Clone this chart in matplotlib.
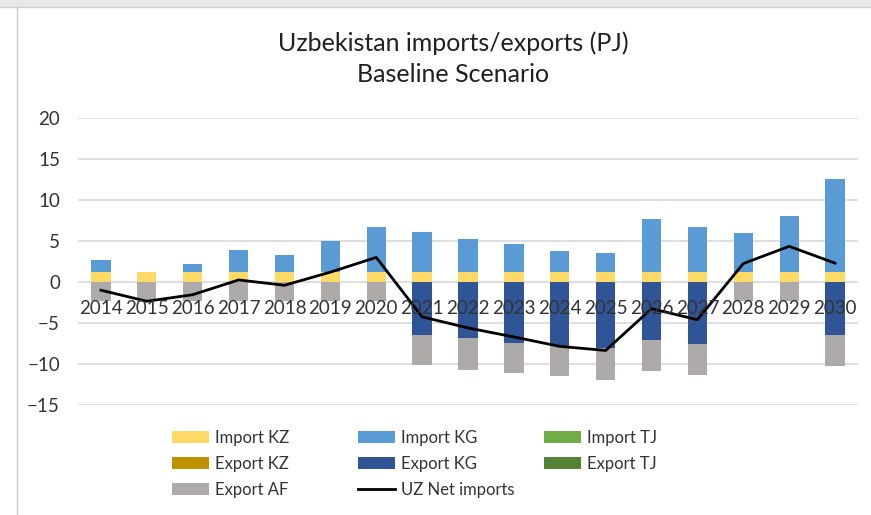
import numpy as np
import matplotlib
matplotlib.use("Agg")
import matplotlib.pyplot as plt
from matplotlib.lines import Line2D
from matplotlib.patches import Rectangle

plt.rcParams['font.family'] = ['Lato', 'DejaVu Sans']

# data (PJ)
years = [str(y) for y in range(2014, 2031)]
imp_kz = [1.25] * 17
imp_kg = [1.45, 0.0, 0.95, 2.7, 2.05, 3.8, 5.5, 4.85, 4.0, 3.4, 2.55, 2.3, 6.4, 5.5, 4.7, 6.85, 11.35]
imp_tj = [0.0] * 17
exp_kz = [0.0] * 17
exp_kg = [0, 0, 0, 0, 0, 0, 0, 6.45, 6.85, 7.4, 7.85, 8.1, 7.1, 7.5, 0, 0, 6.45]
exp_tj = [0.0] * 17
exp_af = [2.3, 2.3, 2.3, 2.3, 2.3, 2.3, 2.3, 3.7, 3.85, 3.7, 3.65, 3.8, 3.75, 3.9, 2.3, 2.3, 3.85]
net = [-1.0, -2.35, -1.55, 0.25, -0.4, 1.2, 3.0, -4.25, -5.6, -6.7, -7.85, -8.35, -3.25, -4.6, 2.25, 4.35, 2.3]

c_imp_kz = '#FFD966'
c_imp_kg = '#5B9BD5'
c_imp_tj = '#70AD47'
c_exp_kz = '#BF9000'
c_exp_kg = '#2F5597'
c_exp_tj = '#548235'
c_exp_af = '#AEAAAA'

fig = plt.figure(figsize=(8.71, 5.15), dpi=100)
# screenshot frame
fig.patches.append(Rectangle((0, 1 - 6 / 515), 1, 6 / 515, transform=fig.transFigure,
                             color='#e8e8e8', zorder=0))
fig.lines.append(Line2D([0, 1], [1 - 7 / 515] * 2, transform=fig.transFigure, color='#d0d0d0', lw=1))
fig.lines.append(Line2D([17 / 871] * 2, [0, 1 - 7 / 515], transform=fig.transFigure, color='#c8c8c8', lw=1))

ax = fig.add_axes([78 / 871, 1 - 405 / 515, 780 / 871, 287 / 515])
x = np.arange(len(years))
w = 0.42

# imports stacked upward
pos = np.zeros(len(years))
for vals, col, lab in [(imp_kz, c_imp_kz, 'Import KZ'), (imp_kg, c_imp_kg, 'Import KG'),
                       (imp_tj, c_imp_tj, 'Import TJ')]:
    v = np.array(vals)
    ax.bar(x, v, w, bottom=pos, color=col, label=lab, zorder=2)
    pos += v

# exports stacked downward
neg = np.zeros(len(years))
for vals, col, lab in [(exp_kz, c_exp_kz, 'Export KZ'), (exp_kg, c_exp_kg, 'Export KG'),
                       (exp_tj, c_exp_tj, 'Export TJ'), (exp_af, c_exp_af, 'Export AF')]:
    v = -np.array(vals, dtype=float)
    ax.bar(x, v, w, bottom=neg, color=col, label=lab, zorder=2)
    neg += v

ax.plot(x, net, color='black', lw=2, label='UZ Net imports', zorder=3)

ax.set_xlim(-0.5, len(years) - 0.5)
ax.set_ylim(-15, 20)
ax.set_yticks(np.arange(-15, 21, 5))
ax.grid(axis='y', color='#d9d9d9', lw=1.2, zorder=0)
for s in ax.spines.values():
    s.set_visible(False)
ax.spines['bottom'].set_position(('data', 0))
ax.set_xticks(x)
ax.set_xticklabels(years)
ax.tick_params(axis='x', length=0, pad=13, labelsize=13.5, labelcolor='#333333')
ax.tick_params(axis='y', length=0, pad=13, labelsize=13.5, labelcolor='#333333')
ax.xaxis.set_zorder(5)

fig.text(453 / 871, 1 - 43 / 515, 'Uzbekistan imports/exports (PJ)', ha='center', va='center',
         fontsize=18, color='#202020')
fig.text(453 / 871, 1 - 74 / 515, 'Baseline Scenario', ha='center', va='center',
         fontsize=18, color='#202020')

h, l = ax.get_legend_handles_labels()
d = dict(zip(l, h))
columns = [(172, ['Import KZ', 'Export KZ', 'Export AF']),
           (358, ['Import KG', 'Export KG', 'UZ Net imports']),
           (544, ['Import TJ', 'Export TJ'])]
for x0, names in columns:
    leg = fig.legend([d[k] for k in names], names, loc='upper left',
                     bbox_to_anchor=(x0 / 871, 1 - 430 / 515), frameon=False,
                     fontsize=12, handlelength=2.2, handleheight=0.7, borderpad=0,
                     borderaxespad=0, labelspacing=0.6, handletextpad=0.4,
                     labelcolor='#333333')

fig.savefig('out.png', dpi=100)
